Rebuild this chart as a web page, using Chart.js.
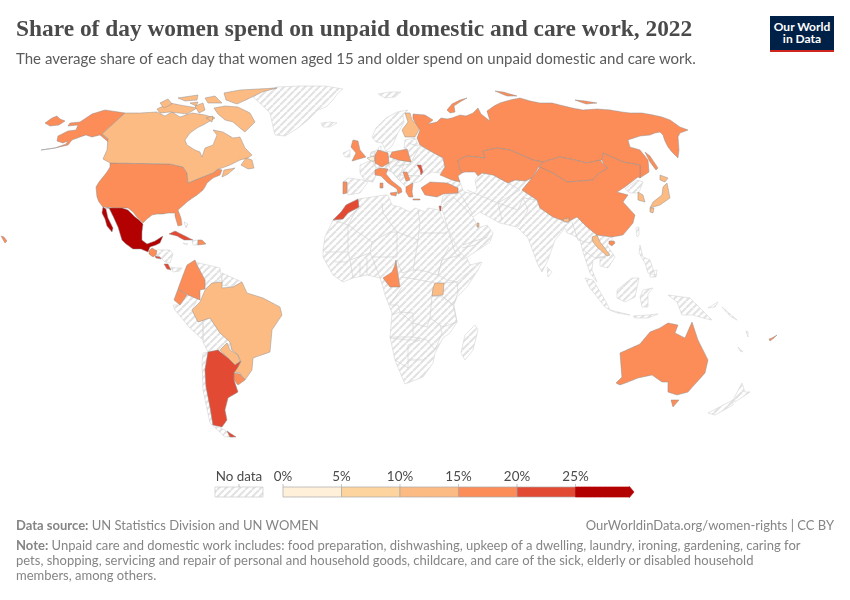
<!DOCTYPE html>
<html><head><meta charset="utf-8">
<script src="https://cdn.jsdelivr.net/npm/chart.js@4"></script>
<style>
html,body{margin:0;padding:0;background:#fff;width:850px;height:600px;overflow:hidden}
#wrap{position:relative;width:850px;height:600px}
canvas{position:absolute;left:0;top:0}
.t{position:absolute;white-space:nowrap;font-family:Lato,sans-serif;color:#858585}
.lg{position:absolute;top:468px;font:13.4px Lato,sans-serif;color:#4a4a4a;transform:translateX(-50%);white-space:nowrap}
</style></head><body>
<div id="wrap">
<canvas id="c" width="850" height="600"></canvas>
<div class="t" id="title" style="left:16px;top:15px;font:bold 23.4px 'Liberation Serif',serif;color:#4a4a4a">Share of day women spend on unpaid domestic and care work, 2022</div>
<div class="t" style="left:16px;top:49px;font-size:15px;letter-spacing:.01px;color:#5b5b5b">The average share of each day that women aged 15 and older spend on unpaid domestic and care work.</div>
<div style="position:absolute;left:770px;top:16px;width:64px;height:36px;background:#002147;color:#fff;font:bold 12px/12.5px Lato,sans-serif;text-align:center;box-sizing:border-box;padding-top:4.5px">Our World<br>in Data<div style="position:absolute;left:0;right:0;bottom:0;height:2.5px;background:#ce261e"></div></div>
<div class="t" style="left:16px;top:517px;font-size:13px"><b>Data source:</b> UN Statistics Division and UN WOMEN</div>
<div class="t" style="right:16px;top:517px;font-size:13px">OurWorldinData.org/women-rights | CC BY</div>
<div class="t" style="left:16px;top:538px;font-size:13px;line-height:15.2px"><b>Note:</b> Unpaid care and domestic work includes: food preparation, dishwashing, upkeep of a dwelling, laundry, ironing, gardening, caring for<br>pets, shopping, servicing and repair of personal and household goods, childcare, and care of the sick, elderly or disabled household<br>members, among others.</div>
<div class="lg" style="left:239px">No data</div>
<div id="ticks"></div>
</div>
<script>
// ---- share of day (%) estimated per reporting country, map outlines in map units ----
const shareBins = [0,5,10,15,20,25];
const binColours = ['#fef0d9','#fdd49e','#fdbb84','#fc8d59','#e34a33','#b30000'];
const legendTop = [487], legendBottom = [497];

const usa=[[110,163],[170,164],[183,167],[187,173],[188,183],[200,178],[213,173],[218,169],[222,170],[220,175],[213,178],[207,183],[205,187],[203,190],[197,195],[191,199],[187,202],[178,210],[181,218],[182,225],[178,226],[175,216],[175,213],[168,213],[163,214],[157,214],[152,215],[147,219],[143,223],[140,220],[137,217],[133,212],[128,208],[122,208],[113,208],[103,207],[99,202],[97,197],[96,187],[99,182],[103,177],[107,172],[110,167]];
const alaska=[[125,113],[105,110],[92,114],[80,122],[70,123],[68,126],[78,125],[76,130],[68,131],[58,136],[57,141],[63,143],[68,141],[66,144],[55,148],[41,150],[55,148],[68,145],[72,140],[80,137],[86,135],[92,137],[100,135],[106,140],[109,143],[110,148],[108,139],[102,134]];
const seward=[[45,123],[52,118],[57,116],[60,119],[65,121],[59,125],[50,126]];
const hawaii=[[1,236],[4,237],[7,241],[5,243]];
const canada=[[125,113],[140,113],[157,112],[165,116],[172,112],[180,117],[192,113],[205,115],[215,118],[205,124],[197,128],[190,133],[185,140],[187,145],[195,150],[200,152],[202,157],[205,148],[213,145],[217,135],[213,130],[223,132],[233,138],[240,137],[245,148],[252,155],[248,158],[240,160],[230,165],[222,168],[218,169],[213,173],[200,178],[188,183],[187,173],[183,167],[170,164],[110,163],[103,159],[107,150],[108,138],[102,134]];
const baffin=[[214,108],[225,106],[238,107],[250,113],[255,122],[245,132],[240,128],[233,122],[225,120],[218,114]];
const ellesmere=[[224,93],[240,90],[277,88],[262,92],[250,98],[237,104],[226,100]];
const victoria=[[157,109],[170,103],[180,105],[197,108],[187,114],[170,112],[160,113]];
const melville=[[178,98],[198,95],[197,100],[185,101]];
const devon=[[205,98],[215,96],[222,103],[208,103]];
const southampton=[[206,118],[213,116],[212,122]];
const banks=[[160,103],[168,99],[172,104],[164,108]];
const princeWales=[[195,106],[203,103],[205,110],[199,113]];
const bathurst=[[190,103],[198,102],[196,106]];
const newfoundland=[[241,165],[246,158],[252,160],[254,168],[248,169]];
const novaScotia=[[224,170],[235,168],[228,174],[222,177]];
const mexico=[[106,208],[113,208],[122,208],[128,210],[134,216],[139,220],[143,224],[142,232],[142,240],[147,244],[155,241],[163,236],[160,243],[156,245],[150,247],[148,252],[141,249],[133,249],[126,244],[122,240],[118,227],[113,216],[109,208]];
const baja=[[103,207],[106,209],[108,218],[113,228],[112,232],[107,226],[105,219],[102,213]];
const guatemala=[[149,251],[152,248],[157,251],[156,255],[153,257],[149,254]];
const elSalvador=[[155,256],[160,257],[161,259],[156,258]];
const costaRica=[[164,264],[168,264],[171,270],[167,269]];
const cuba=[[169,234],[175,231],[183,235],[193,240],[184,240],[177,236]];
const dominican=[[198,240],[202,240],[206,244],[198,245]];
const colombia=[[195,260],[197,265],[205,280],[205,289],[200,290],[200,300],[188,295],[178,289],[182,278],[187,265]];
const ecuador=[[178,289],[187,295],[180,305],[174,300]];
const brazil=[[205,290],[212,283],[222,282],[222,288],[233,287],[242,282],[247,293],[263,298],[280,307],[282,315],[272,330],[270,352],[253,358],[252,370],[245,380],[240,373],[234,372],[241,362],[238,355],[232,350],[230,342],[220,333],[210,318],[198,322],[192,310],[200,302]];
const paraguay=[[220,350],[227,343],[230,350],[238,355],[240,362],[235,365],[228,358]];
const uruguay=[[234,373],[240,374],[245,380],[238,385],[234,380]];
const argentina=[[208,352],[218,350],[228,358],[235,365],[241,361],[238,367],[234,373],[234,380],[238,392],[228,398],[225,410],[227,420],[222,427],[213,425],[210,407],[206,387],[205,370]];
const tierra=[[227,431],[236,437],[230,437]];
const finland=[[405,113],[410,113],[412,120],[420,128],[415,137],[405,137],[402,130],[408,122]];
const russia=[[413,114],[425,115],[433,120],[428,124],[437,122],[441,118],[447,119],[452,118],[460,115],[466,116],[473,113],[478,108],[481,114],[490,121],[487,111],[494,106],[500,103],[510,100],[520,98],[530,101],[540,103],[552,103],[560,105],[572,108],[583,110],[597,109],[610,110],[622,112],[630,113],[642,113],[653,115],[662,117],[670,120],[680,127],[688,130],[680,133],[678,137],[679,150],[678,158],[672,152],[668,147],[665,141],[663,135],[660,132],[655,133],[650,135],[640,136],[628,140],[630,147],[640,150],[648,160],[649,172],[640,178],[640,165],[623,162],[603,153],[602,160],[587,163],[575,160],[560,157],[543,162],[533,160],[510,150],[497,148],[483,151],[485,158],[467,156],[458,160],[459,167],[462,173],[458,176],[460,182],[452,180],[440,175],[445,167],[443,158],[432,152],[420,145],[417,138],[420,130],[418,127],[413,119]];
const novaya=[[447,110],[452,104],[460,100],[467,98],[460,102],[454,106],[455,112],[450,113]];
const severnaya=[[495,91],[503,92],[517,96],[507,96]];
const newSiberian=[[575,100],[585,101],[597,103],[586,104]];
const sakhalin=[[645,152],[650,156],[658,168],[656,170],[650,162]];
const kazakhstan=[[458,160],[467,156],[485,158],[483,151],[497,148],[510,150],[533,160],[543,162],[538,168],[532,178],[525,181],[515,180],[508,183],[493,175],[482,173],[478,176],[475,172],[465,172],[462,173],[459,167]];
const mongolia=[[543,162],[560,157],[575,160],[587,163],[600,160],[604,165],[608,168],[598,174],[593,180],[567,182],[553,173],[539,167]];
const china=[[540,167],[532,178],[522,190],[537,200],[540,208],[553,217],[567,222],[577,217],[587,227],[597,235],[612,237],[623,235],[633,223],[635,215],[623,202],[628,195],[617,192],[625,187],[638,177],[640,178],[640,165],[623,162],[603,153],[602,160],[604,165],[608,168],[598,174],[593,180],[567,182],[553,173]];
const hainan=[[609,241],[614,241],[615,243],[612,246],[609,244]];
const bhutan=[[563,219],[569,218],[569,222],[564,222]];
const laos=[[592,237],[597,235],[600,242],[610,255],[607,256],[597,247],[593,242]];
const honshu=[[667,183],[670,198],[660,205],[650,208],[653,202],[662,195],[663,187]];
const hokkaido=[[660,175],[668,178],[665,182],[660,180]];
const kyushu=[[650,208],[654,208],[653,213],[650,212]];
const southKorea=[[638,192],[643,195],[645,202],[638,200]];
const uk=[[353,140],[358,141],[360,150],[366,157],[352,161],[356,153],[351,147]];
const belgium=[[367,158],[374,156],[375,161],[371,161]];
const germany=[[378,150],[388,153],[389,163],[382,167],[375,163],[375,155]];
const poland=[[392,152],[407,149],[411,162],[398,160],[390,157]];
const italy=[[375,170],[380,168],[388,169],[386,174],[392,181],[401,188],[402,192],[398,194],[397,189],[388,183],[381,176],[375,175]];
const sardinia=[[380,183],[383,183],[383,188],[380,188]];
const sicily=[[390,193],[397,192],[396,196],[391,195]];
const moldova=[[417,165],[421,165],[423,172],[421,175],[420,170]];
const serbia=[[403,172],[407,172],[410,180],[406,181]];
const greece=[[406,187],[413,183],[412,192],[413,197],[409,197],[406,192]];
const crete=[[413,199],[420,199],[420,200],[413,200]];
const turkey=[[421,188],[430,182],[447,183],[458,188],[458,193],[443,194],[437,197],[425,195]];
const portugal=[[343,182],[347,182],[347,193],[343,194]];
const morocco=[[346,205],[358,199],[359,207],[348,213],[343,219],[333,220],[341,212]];
const palestine=[[439,206],[441,206],[441,211],[440,211]];
const qatar=[[477,223],[479,223],[479,227],[477,227]];
const cameroon=[[396,260],[397,268],[400,287],[390,287],[383,278],[392,272],[395,265]];
const uganda=[[435,283],[444,283],[443,295],[432,296],[433,288]];
const australia=[[616,383],[622,377],[620,353],[640,344],[650,332],[660,328],[668,323],[678,325],[675,333],[685,338],[692,322],[698,340],[708,360],[705,373],[688,392],[677,395],[668,392],[668,382],[662,382],[652,375],[638,378],[628,382],[620,385]];
const tasmania=[[671,400],[679,400],[673,407]];
const fiji=[[769,339],[772,338],[777,335],[774,338],[770,341]];

// areas without data (hatched)
const greenland=[[253,97],[262,91],[277,87],[300,86],[325,86],[343,89],[338,93],[333,100],[326,107],[318,110],[308,120],[298,128],[285,136],[275,135],[272,122],[270,113],[262,105]];
const iceland=[[321,123],[330,122],[337,123],[330,127],[323,127]];
const svalbard=[[378,94],[390,92],[401,92],[395,97],[385,98]];
const scandinavia=[[372,137],[376,128],[386,118],[397,112],[408,110],[403,115],[404,122],[398,133],[392,146],[386,151],[382,143],[376,142]];
const ireland=[[343,153],[350,150],[350,157],[345,157]];
const france=[[360,165],[372,160],[375,165],[377,173],[373,182],[363,178],[360,173]];
const spain=[[343,182],[348,178],[363,180],[368,182],[360,193],[348,195],[347,182]];
const centralEurope=[[372,160],[376,150],[392,152],[405,160],[399,180],[392,172],[386,170],[378,170]];
const eastEurope=[[405,140],[415,138],[418,145],[432,152],[443,158],[445,167],[440,173],[432,172],[425,176],[422,180],[418,182],[413,183],[406,187],[399,180],[392,172],[389,166],[389,163],[398,160],[411,162],[407,149],[404,148]];
const caucasus=[[447,183],[452,180],[460,182],[463,190],[458,193],[458,188]];
const denmark=[[378,148],[381,146],[381,151],[378,151]];
const netherlands=[[371,152],[375,151],[375,156],[370,156]];
const africa=[[333,220],[343,219],[348,213],[359,207],[358,199],[372,197],[385,195],[388,195],[392,205],[400,207],[410,212],[415,208],[425,212],[428,208],[439,210],[442,217],[450,233],[460,253],[467,258],[470,265],[482,262],[478,270],[467,287],[457,297],[454,305],[457,322],[450,333],[443,338],[435,353],[433,363],[423,377],[405,384],[402,377],[395,360],[390,337],[392,313],[385,295],[383,287],[380,278],[367,275],[353,278],[343,282],[333,275],[323,257],[323,250],[325,237]];
const madagascar=[[475,325],[478,330],[473,350],[465,360],[461,353],[465,335]];
const asiaSouth=[[441,205],[443,196],[458,193],[463,190],[465,192],[474,194],[477,190],[475,180],[478,176],[482,173],[493,175],[508,183],[515,180],[525,181],[532,178],[522,190],[537,200],[540,208],[553,217],[567,222],[577,217],[587,227],[597,235],[612,237],[612,240],[607,245],[615,257],[608,268],[600,266],[600,257],[593,260],[592,270],[597,282],[590,273],[583,252],[580,240],[573,235],[567,233],[565,228],[555,240],[548,260],[542,272],[538,265],[528,238],[517,227],[500,223],[480,212],[473,217],[478,228],[487,225],[493,233],[490,242],[463,260],[455,253],[443,212]];
const sriLanka=[[547,267],[552,272],[548,277]];
const northKorea=[[625,189],[637,180],[643,182],[640,190],[638,193],[630,193]];
const taiwan=[[636,228],[639,227],[639,235],[637,237]];
const centralAm=[[156,250],[170,250],[173,254],[170,263],[165,262],[160,257],[156,255]];
const panama=[[171,267],[176,268],[182,268],[180,271],[173,272]];
const haiti=[[192,241],[198,240],[198,245],[193,245]];
const jamaica=[[183,243],[188,244],[186,245]];
const bahamas=[[184,222],[186,228],[188,224]];
const venezuela=[[195,262],[220,268],[222,280],[212,283],[205,289],[205,280]];
const guianas=[[222,273],[242,282],[233,287],[222,285]];
const peru=[[173,305],[180,305],[188,295],[198,298],[192,310],[198,322],[203,320],[203,340],[190,328],[175,310]];
const bolivia=[[203,320],[210,318],[220,333],[230,342],[232,350],[227,343],[220,350],[208,352],[203,342]];
const chile=[[203,353],[208,352],[205,370],[210,407],[213,425],[225,430],[233,437],[225,437],[210,423],[203,390],[202,363]];
const sumatra=[[585,278],[593,280],[605,300],[610,310],[605,307],[590,288]];
const java=[[610,310],[630,315],[617,313]];
const borneo=[[617,290],[632,278],[639,278],[635,297],[625,302],[617,298]];
const sulawesi=[[640,297],[643,290],[653,288],[648,294],[648,307],[642,307]];
const luzon=[[640,245],[643,257],[650,260],[655,275],[648,273],[645,263],[639,253]];
const mindanao=[[650,272],[657,270],[656,277],[650,277]];
const newGuinea=[[668,295],[690,298],[702,310],[712,320],[703,318],[693,315],[682,315],[677,302]];
const newBritain=[[708,308],[718,302],[715,307]];
const solomon=[[722,307],[737,320],[730,316]];
const timor=[[633,316],[648,315],[658,314],[648,318],[635,318]];
const newCaledonia=[[738,347],[743,352],[740,351]];
const vanuatu=[[746,331],[748,332],[748,337]];
const nzNorth=[[742,383],[745,392],[750,392],[735,402],[733,400]];
const nzSouth=[[733,400],[708,413],[715,415],[733,405]];

// internal borders of the no-data areas
const borderLines=[
 [[333,220],[348,225],[348,252],[325,252]],
 [[358,207],[348,225],[372,242],[390,232],[397,232],[383,213],[382,203]],
 [[372,242],[370,253],[350,260],[348,252]],
 [[397,232],[418,240],[420,223],[418,210]],
 [[420,233],[447,233]],
 [[397,232],[397,257],[372,257],[370,253]],
 [[397,260],[402,273],[413,270],[416,253],[418,240]],
 [[449,247],[442,260],[438,275],[420,270],[413,270]],
 [[460,255],[442,260],[438,275],[447,280],[457,282],[473,268]],
 [[444,283],[457,282],[458,293],[453,305],[443,297]],
 [[402,287],[390,305],[398,305],[400,312],[413,313],[413,323],[427,327],[430,318],[432,296],[435,283],[420,280],[402,277]],
 [[392,315],[400,312],[413,323],[413,337],[390,337]],
 [[432,296],[443,297],[453,305],[457,322],[443,327],[430,318]],
 [[390,338],[408,340],[420,340],[408,345],[408,368],[395,360]],
 [[408,360],[423,360],[435,350]],
 [[413,337],[427,340],[435,350],[442,333],[440,325]],
 [[350,260],[353,278]],[[360,262],[360,277]],[[367,258],[367,275]],[[372,257],[380,278]],[[335,262],[348,262]],
 [[460,193],[472,213]],[[498,203],[502,220]],[[467,190],[498,203],[520,190],[508,183]],
 [[498,203],[518,210],[523,198],[537,200]],[[523,198],[528,210],[518,227]],
 [[460,203],[473,217]],[[443,205],[453,197],[460,203]],[[463,245],[487,237],[490,230]],[[462,248],[475,245],[487,237]],
 [[572,222],[578,240],[590,243],[593,237]],[[583,250],[595,258],[607,256]],[[600,257],[606,258]],
 [[363,180],[373,182]],[[395,166],[411,164]],[[399,175],[420,176]],[[411,162],[418,150]],[[408,143],[418,146]]
];

const reported=[
 [usa,17],[alaska,17],[seward,17],[hawaii,17],
 [canada,12],[baffin,12],[ellesmere,12],[victoria,12],[melville,12],[devon,12],[southampton,12],[banks,12],[princeWales,12],[bathurst,12],[newfoundland,12],[novaScotia,12],
 [mexico,27],[baja,27],[guatemala,17],[elSalvador,22],[costaRica,22],[cuba,22],[dominican,17],
 [colombia,17],[ecuador,17],[brazil,12],[paraguay,12],[uruguay,17],[argentina,22],[tierra,22],
 [finland,12],[russia,17],[novaya,17],[severnaya,17],[newSiberian,17],[sakhalin,17],[kazakhstan,17],[mongolia,17],[china,17],[hainan,17],
 [bhutan,12],[laos,12],[honshu,12],[hokkaido,12],[kyushu,12],[southKorea,12],
 [uk,17],[belgium,4],[germany,17],[poland,17],[italy,17],[sardinia,17],[sicily,17],[moldova,22],[serbia,17],[greece,17],[crete,17],[turkey,17],[portugal,17],
 [morocco,22],[palestine,22],[qatar,12],[cameroon,17],[uganda,12],[australia,17],[tasmania,17],[fiji,17]
];
const noData=[greenland,iceland,svalbard,scandinavia,ireland,france,spain,centralEurope,eastEurope,caucasus,denmark,netherlands,africa,madagascar,asiaSouth,sriLanka,northKorea,taiwan,centralAm,panama,haiti,jamaica,bahamas,venezuela,guianas,peru,bolivia,chile,sumatra,java,borneo,sulawesi,luzon,mindanao,newGuinea,newBritain,solomon,timor,newCaledonia,vanuatu,nzNorth,nzSouth];
const ticksPct=[0,5,10,15,20,25];
const arrowStart=[29.6], arrowEnd=[30];

// ---- hatch pattern ----
function hatch(){
  const s=7,p=document.createElement('canvas');p.width=p.height=s;
  const g=p.getContext('2d');g.strokeStyle='#e2e2e2';g.lineWidth=2.1;
  for(const o of [-s,0,s]){g.beginPath();g.moveTo(o,s);g.lineTo(o+s,0);g.stroke();}
  return g.createPattern(p,'repeat');
}
const H=hatch();
const pts=a=>{const d=a.map(([x,y])=>({x,y}));d.push({...d[0]});return d;};
const colourOf=v=>binColours[Math.min(5,Math.floor(v/5))];
const base={showLine:true,pointRadius:0,pointHoverRadius:0,tension:0.001,borderJoinStyle:'round'};
const ds=[];
for(const a of noData)ds.push({...base,data:pts(a),fill:'shape',backgroundColor:H,borderColor:'#d4d4d4',borderWidth:.6});
for(const l of borderLines)ds.push({...base,data:l.map(([x,y])=>({x,y})),fill:false,borderColor:'#d2d2d2',borderWidth:.7});
for(const [a,v] of reported)ds.push({...base,data:pts(a),fill:'shape',backgroundColor:colourOf(v),borderColor:'#8f8f8f',borderWidth:.5});

// legend, on its own percent scale
const yT=legendTop[0],yB=legendBottom[0];
shareBins.forEach((b,i)=>{
  const e=i<5?shareBins[i+1]:arrowStart[0];
  const shape=i<5?[[b,yT],[e,yT],[e,yB],[b,yB]]:[[b,yT],[e,yT],[e,yT-.5],[arrowEnd[0],(yT+yB)/2],[e,yB+.5],[e,yB],[b,yB]];
  ds.push({...base,data:pts(shape),xAxisID:'xl',fill:'shape',backgroundColor:binColours[i],borderColor:i<5?'#a8a8a8':binColours[5],borderWidth:.7});
});
ticksPct.forEach(t=>ds.push({...base,data:[{x:t,y:yT-3},{x:t,y:yT}],xAxisID:'xl',fill:false,borderColor:'#a0a0a0',borderWidth:.7}));
ds.push({...base,data:pts([[215,yT],[263,yT],[263,yB],[215,yB]]),fill:'shape',backgroundColor:H,borderColor:'#c8c8c8',borderWidth:.7});
ds.push({...base,data:[{x:239,y:yT-3},{x:239,y:yT}],fill:false,borderColor:'#a0a0a0',borderWidth:.7});

const pxPerPct=11.7, zero=283;
const chart=new Chart(document.getElementById('c'),{
  type:'scatter',
  data:{datasets:ds.reverse()},
  options:{
    responsive:false,animation:false,
    events:[],layout:{padding:0},
    plugins:{legend:{display:false},tooltip:{enabled:false},title:{display:false}},
    scales:{
      x:{type:'linear',min:0,max:850,display:false},
      xl:{type:'linear',axis:'x',min:-zero/pxPerPct,max:(850-zero)/pxPerPct,display:false},
      y:{type:'linear',min:0,max:600,reverse:true,display:false}
    }
  }
});
const tk=document.getElementById('ticks');
ticksPct.forEach(t=>{const d=document.createElement('div');d.className='lg';d.textContent=t+'%';d.style.left=chart.scales.xl.getPixelForValue(t)+'px';tk.appendChild(d);});
</script>
</body></html>
